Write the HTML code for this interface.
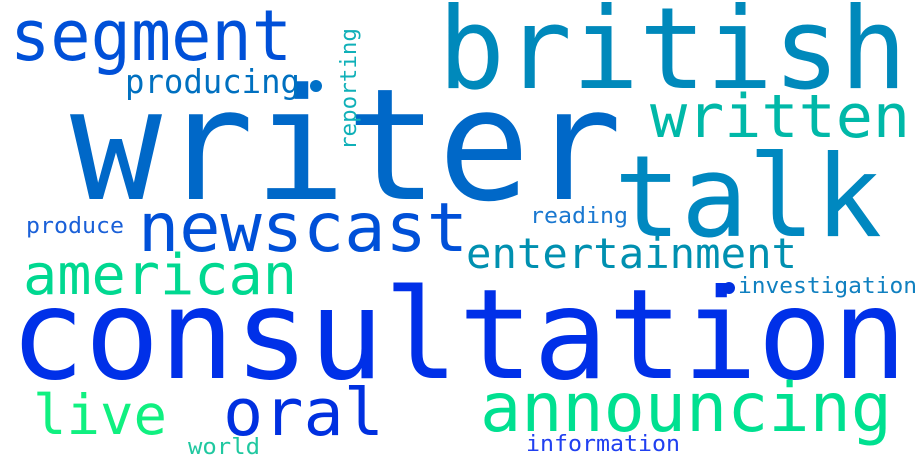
<!DOCTYPE html>
<html><head><meta charset="utf-8"><style>
html,body{margin:0;padding:0;background:#fff;width:924px;height:462px;overflow:hidden}
text{font-family:"DejaVu Sans Mono","Liberation Mono",monospace}
</style></head><body>
<svg width="924" height="462" viewBox="0 0 924 462">
<rect width="924" height="462" fill="#fff"/>
<g id="words"></g>
</svg>
<script>
const words = ["writer","british","segment","producing","written","talk","reading","newscast","produce","entertainment","american","investigation","consultation","live","oral","world","announcing","information"];
const sizes = [155,113,70,33,60,113,22,68,22,42,56,22,125,55,65,22,68,22];
const colors = ["#0068c8","#0089bb","#0050d8","#0070c0","#00b8a8","#0088c0","#1a78d0","#0050d8","#1a60d8","#0090b0","#00d890","#1080c0","#0030e8","#10f080","#0030e0","#20c8a0","#00e090","#2040f0"];
const layout = [[70,199,552],[438,88,469],[10,60,282],[125,93,175],[650,137,260],[614,236,268],[530,223,98],[138,251,330],[26,233,98],[466,268,331],[23,294,274],[738,293,179],[10,378,897],[33,434,134],[223,435,161],[188,454,72],[480,431,412],[526,451,154]];
const g = document.getElementById('words');
const NS = 'http://www.w3.org/2000/svg';
words.forEach((w,i)=>{
  const t = document.createElementNS(NS,'text');
  t.setAttribute('x', layout[i][0]);
  t.setAttribute('y', layout[i][1]);
  t.setAttribute('font-size', sizes[i]);
  t.setAttribute('fill', colors[i]);
  t.setAttribute('textLength', layout[i][2]);
  t.setAttribute('lengthAdjust', 'spacingAndGlyphs');
  t.textContent = w;
  
  
  g.appendChild(t);
});
// vertical word
const r = document.createElementNS(NS,'text');
r.setAttribute('transform','translate(356,150) rotate(-90)');
r.setAttribute('font-size', 22);
r.setAttribute('fill', '#10b0b8');
r.setAttribute('textLength', 122);
r.setAttribute('lengthAdjust', 'spacingAndGlyphs');
r.textContent = 'reporting';


g.appendChild(r);
// dots
[[316,86,6,'#0070c8'],[729,288,6,'#0030e0']].forEach(d=>{
  const c = document.createElementNS(NS,'circle');
  c.setAttribute('cx',d[0]);c.setAttribute('cy',d[1]);c.setAttribute('r',d[2]);c.setAttribute('fill',d[3]);
  
  
  g.appendChild(c);
});
</script>
</body></html>
